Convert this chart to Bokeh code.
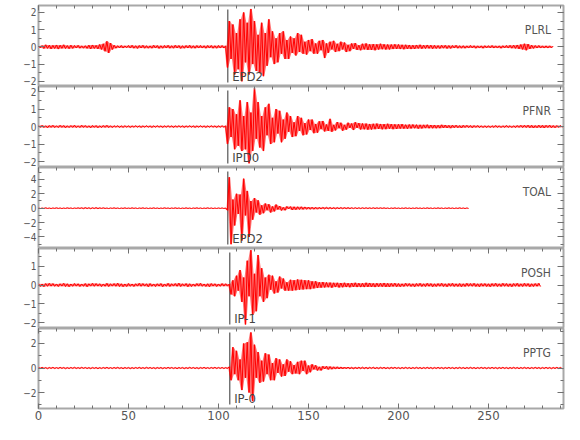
from bokeh.plotting import figure
from bokeh.layouts import column
from bokeh.models import Range1d, LinearAxis, SingleIntervalTicker, Label
from bokeh.embed import file_html
from bokeh.resources import INLINE
import numpy as np

# ---------------- data ----------------
stations = ["PLRL", "PFNR", "TOAL", "POSH", "PPTG"]
pick_names = ["EPD2", "IPD0", "EPD2", "IP-1", "IP-0"]
pick_times = [105.2, 105.2, 105.2, 106.3, 106.3]
y_low = [-2.3, -2.34, -5.6, -2.32, -3.3]
y_high = [2.4, 2.29, 5.65, 1.95, 3.22]
y_major = [1, 1, 2, 1, 2]
x_max = 291.7
dt = 1.0  # seconds between listed peak values

plrl = [
    0.05, -0.06, 0.08, -0.10, 0.12, -0.09, 0.10, -0.12, 0.09, -0.10,
    0.11, -0.13, 0.10, -0.09, 0.12, -0.10, 0.08, -0.11, 0.10, -0.09,
    0.08, -0.07, 0.09, -0.08, 0.06, -0.08, 0.07, -0.09, 0.10, -0.12,
    0.11, -0.10, 0.09, -0.12, 0.14, -0.15, 0.18, -0.26, 0.32, -0.35,
    0.22, -0.16, 0.10, -0.08, 0.07, -0.06, 0.08, -0.07, 0.06, -0.05,
    0.08, -0.07, 0.09, -0.08, 0.07, -0.09, 0.08, -0.07, 0.09, -0.08,
    0.07, -0.08, 0.06, -0.08, 0.09, -0.07, 0.08, -0.09, 0.07, -0.08,
    0.08, -0.07, 0.09, -0.08, 0.07, -0.08, 0.09, -0.07, 0.08, -0.09,
    0.07, -0.08, 0.08, -0.07, 0.09, -0.08, 0.07, -0.08, 0.08, -0.07,
    0.08, -0.07, 0.07, -0.08, 0.08, -0.07, 0.08, -0.08, 0.07, -0.08,
    0.08, -0.07, 0.08, -0.07, 0.06, -1.20, 1.50, -0.70, 1.30, -1.60,
    0.80, -1.30, 1.60, -2.00, 2.00, -0.90, 1.40, -1.60, 2.20, -1.00,
    1.50, -1.40, 0.70, -1.50, 1.40, -1.70, 0.80, -1.10, 1.60, -0.60,
    0.90, -1.00, 0.50, -0.90, 0.80, -0.40, 0.90, -0.70, 0.40, -0.70,
    0.60, -0.35, 0.50, -0.50, 0.80, -0.30, 0.70, -0.40, 0.30, -0.45,
    0.40, -0.25, 0.45, -0.40, 0.20, -0.40, 0.35, -0.20, 0.40, -0.65,
    0.20, -0.35, 0.30, -0.15, 0.35, -0.30, 0.18, -0.25, 0.30, -0.15,
    0.25, -0.30, 0.12, -0.25, 0.20, -0.12, 0.22, -0.18, 0.10, -0.20,
    0.18, -0.15, 0.20, -0.18, 0.15, -0.18, 0.16, -0.20, 0.15, -0.16,
    0.18, -0.14, 0.15, -0.16, 0.14, -0.15, 0.14, -0.13, 0.15, -0.12,
    0.14, -0.13, 0.12, -0.14, 0.12, -0.12, 0.11, -0.13, 0.10, -0.12,
    0.11, -0.10, 0.12, -0.11, 0.10, -0.10, 0.11, -0.09, 0.10, -0.11,
    0.09, -0.10, 0.08, -0.10, 0.09, -0.08, 0.09, -0.10, 0.08, -0.09,
    0.08, -0.07, 0.09, -0.08, 0.07, -0.08, 0.07, -0.08, 0.06, -0.07,
    0.08, -0.06, 0.07, -0.08, 0.06, -0.07, 0.06, -0.08, 0.07, -0.06,
    0.07, -0.06, 0.08, -0.07, 0.06, -0.07, 0.06, -0.08, 0.07, -0.06,
    0.08, -0.07, 0.09, -0.08, 0.10, -0.09, 0.11, -0.12, 0.14, -0.15,
    0.18, -0.20, 0.16, -0.12, 0.10, -0.09, 0.08, -0.07, 0.08, -0.07,
    0.06, -0.07, 0.06, -0.07, 0.06, -0.06, 0.05,
]

pfnr = [
    0.06, -0.05, 0.07, -0.06, 0.05, -0.07, 0.06, -0.05, 0.07, -0.06,
    0.05, -0.06, 0.07, -0.05, 0.06, -0.07, 0.05, -0.06, 0.06, -0.05,
    0.07, -0.06, 0.05, -0.06, 0.07, -0.05, 0.06, -0.06, 0.05, -0.07,
    0.06, -0.05, 0.06, -0.07, 0.05, -0.06, 0.06, -0.05, 0.07, -0.06,
    0.05, -0.06, 0.05, -0.04, 0.05, -0.05, 0.04, -0.05, 0.05, -0.04,
    0.04, -0.05, 0.04, -0.04, 0.05, -0.04, 0.04, -0.05, 0.04, -0.04,
    0.05, -0.04, 0.04, -0.05, 0.04, -0.04, 0.05, -0.04, 0.04, -0.05,
    0.04, -0.04, 0.05, -0.04, 0.04, -0.05, 0.04, -0.04, 0.05, -0.04,
    0.04, -0.05, 0.04, -0.04, 0.05, -0.04, 0.04, -0.05, 0.04, -0.04,
    0.05, -0.04, 0.04, -0.05, 0.04, -0.04, 0.05, -0.04, 0.04, -0.05,
    0.04, -0.04, 0.05, -0.04, 0.04, -1.00, 1.10, -0.60, 1.00, -1.30,
    0.70, -1.10, 1.50, -1.40, 0.60, -1.30, 1.40, -2.10, 0.80, -1.40,
    2.20, -0.70, 1.40, -1.20, 0.60, -1.40, 1.10, -0.50, 1.30, -1.00,
    0.50, -0.90, 1.00, -0.40, 0.90, -0.90, 0.40, -0.70, 0.80, -0.30,
    0.60, -0.60, 0.25, -0.55, 0.60, -0.25, 0.50, -0.50, 0.20, -0.45,
    0.40, -0.20, 0.40, -0.38, 0.15, -0.35, 0.30, -0.15, 0.32, -0.28,
    0.12, -0.25, 0.44, -0.30, 0.10, -0.22, 0.26, -0.10, 0.22, -0.24,
    0.10, -0.18, 0.22, -0.08, 0.18, -0.20, 0.25, -0.08, 0.20, -0.17,
    0.18, -0.16, 0.17, -0.18, 0.15, -0.17, 0.16, -0.15, 0.17, -0.14,
    0.15, -0.16, 0.14, -0.15, 0.16, -0.13, 0.14, -0.15, 0.13, -0.14,
    0.13, -0.12, 0.14, -0.12, 0.11, -0.13, 0.12, -0.11, 0.12, -0.10,
    0.11, -0.12, 0.10, -0.11, 0.10, -0.09, 0.11, -0.10, 0.09, -0.10,
    0.09, -0.10, 0.08, -0.09, 0.10, -0.08, 0.09, -0.08, 0.07, -0.09,
    0.08, -0.07, 0.08, -0.07, 0.06, -0.08, 0.07, -0.06, 0.07, -0.06,
    0.06, -0.07, 0.06, -0.05, 0.06, -0.06, 0.05, -0.06, 0.05, -0.06,
    0.05, -0.06, 0.05, -0.05, 0.06, -0.05, 0.05, -0.06, 0.05, -0.05,
    0.06, -0.05, 0.05, -0.06, 0.05, -0.06, 0.06, -0.05, 0.07, -0.06,
    0.07, -0.06, 0.08, -0.07, 0.07, -0.08, 0.06, -0.07, 0.08, -0.07,
    0.07, -0.08, 0.07, -0.06, 0.08, -0.07, 0.06, -0.07, 0.06, -0.05,
    0.06, -0.05,
]

toal = [
    0.04, -0.05, 0.03, -0.04, 0.05, -0.04, 0.03, -0.05, 0.04, -0.03,
    0.05, -0.04, 0.04, -0.05, 0.03, -0.04, 0.05, -0.03, 0.04, -0.05,
    0.04, -0.03, 0.05, -0.04, 0.06, -0.07, 0.08, -0.06, 0.07, -0.08,
    0.07, -0.06, 0.08, -0.07, 0.05, -0.04, 0.05, -0.04, 0.03, -0.05,
    0.04, -0.03, 0.05, -0.04, 0.04, -0.05, 0.03, -0.04, 0.05, -0.04,
    0.03, -0.04, 0.05, -0.03, 0.04, -0.05, 0.04, -0.03, 0.05, -0.04,
    0.04, -0.05, 0.03, -0.04, 0.05, -0.04, 0.04, -0.05, 0.03, -0.04,
    0.05, -0.03, 0.04, -0.05, 0.04, -0.03, 0.05, -0.04, 0.04, -0.05,
    0.03, -0.04, 0.05, -0.04, 0.03, -0.05, 0.04, -0.03, 0.05, -0.04,
    0.04, -0.05, 0.03, -0.04, 0.05, -0.04, 0.04, -0.05, 0.03, -0.04,
    0.04, -0.03, 0.04, -0.04, 0.03, -0.30, 4.30, -5.00, 1.20, -2.40,
    2.00, -0.80, 1.90, -4.50, 4.10, -1.00, 2.40, -4.00, 1.00, -1.60,
    1.40, -0.60, 1.10, -0.90, 0.40, -0.70, 0.65, -0.30, 0.55, -0.60,
    0.25, -0.45, 0.50, -0.20, 0.30, -0.32, 0.12, -0.30, 0.25, -0.10,
    0.22, -0.25, 0.20, -0.22, 0.20, -0.18, 0.20, -0.17, 0.18, -0.16,
    0.15, -0.16, 0.14, -0.15, 0.13, -0.14, 0.12, -0.13, 0.12, -0.11,
    0.12, -0.10, 0.11, -0.10, 0.09, -0.10, 0.09, -0.08, 0.09, -0.08,
    0.08, -0.07, 0.08, -0.07, 0.07, -0.06, 0.07, -0.06, 0.06, -0.06,
    0.06, -0.05, 0.06, -0.05, 0.05, -0.05, 0.06, -0.05, 0.05, -0.04,
    0.05, -0.04, 0.05, -0.04, 0.04, -0.05, 0.04, -0.04, 0.05, -0.04,
    0.04, -0.05, 0.04, -0.04, 0.05, -0.04, 0.04, -0.05, 0.04, -0.04,
    0.05, -0.04, 0.04, -0.05, 0.04, -0.04, 0.05, -0.04, 0.04, -0.05,
    0.04, -0.04, 0.05, -0.04, 0.04, -0.05, 0.04, -0.04, 0.05, -0.04,
    0.04, -0.05, 0.04, -0.04, 0.05, -0.04, 0.04, -0.05, 0.04, -0.04,
]

posh = [
    0.07, -0.08, 0.06, -0.09, 0.08, -0.07, 0.09, -0.06, 0.08, -0.07,
    0.06, -0.08, 0.07, -0.06, 0.09, -0.08, 0.07, -0.09, 0.06, -0.07,
    0.08, -0.06, 0.07, -0.08, 0.06, -0.07, 0.08, -0.09, 0.07, -0.06,
    0.09, -0.07, 0.08, -0.06, 0.07, -0.08, 0.06, -0.07, 0.09, -0.08,
    0.07, -0.06, 0.08, -0.07, 0.10, -0.08, 0.07, -0.09, 0.06, -0.08,
    0.08, -0.07, 0.06, -0.08, 0.07, -0.06, 0.09, -0.07, 0.08, -0.06,
    0.07, -0.09, 0.08, -0.07, 0.06, -0.08, 0.07, -0.06, 0.08, -0.09,
    0.06, -0.07, 0.09, -0.08, 0.07, -0.06, 0.08, -0.07, 0.10, -0.08,
    0.07, -0.06, 0.08, -0.09, 0.07, -0.08, 0.06, -0.07, 0.08, -0.06,
    0.09, -0.07, 0.06, -0.08, 0.07, -0.09, 0.08, -0.06, 0.07, -0.08,
    0.06, -0.07, 0.08, -0.06, 0.07, -0.06, 0.05, -0.50, 0.25, -0.60,
    0.50, -0.30, 0.80, -0.90, 0.40, -2.10, 1.30, -0.60, 1.86, -1.60,
    0.60, -1.40, 1.60, -0.60, 0.90, -0.90, 0.40, -0.70, 0.55, -0.25,
    0.50, -0.45, 0.20, -0.40, 0.45, -0.18, 0.35, -0.30, 0.15, -0.30,
    0.28, -0.30, 0.26, -0.28, 0.30, -0.25, 0.28, -0.24, 0.26, -0.22,
    0.25, -0.22, 0.20, -0.18, 0.20, -0.16, 0.15, -0.14, 0.16, -0.13,
    0.14, -0.12, 0.13, -0.14, 0.12, -0.11, 0.12, -0.13, 0.11, -0.12,
    0.12, -0.11, 0.10, -0.12, 0.11, -0.10, 0.12, -0.11, 0.10, -0.11,
    0.10, -0.11, 0.12, -0.10, 0.11, -0.10, 0.09, -0.11, 0.10, -0.09,
    0.10, -0.09, 0.11, -0.10, 0.09, -0.10, 0.09, -0.08, 0.10, -0.09,
    0.08, -0.09, 0.07, -0.08, 0.09, -0.07, 0.08, -0.08, 0.07, -0.09,
    0.08, -0.07, 0.09, -0.08, 0.07, -0.08, 0.09, -0.07, 0.08, -0.09,
    0.07, -0.08, 0.08, -0.07, 0.09, -0.08, 0.07, -0.09, 0.08, -0.07,
    0.09, -0.08, 0.07, -0.08, 0.08, -0.09, 0.07, -0.08, 0.09, -0.07,
    0.08, -0.07, 0.09, -0.08, 0.07, -0.09, 0.08, -0.07, 0.08, -0.08,
    0.07, -0.09, 0.08, -0.07, 0.09, -0.08, 0.07, -0.08, 0.09, -0.07,
    0.08, -0.08, 0.07, -0.09, 0.08, -0.07, 0.09, -0.08, 0.07, -0.08,
    0.09, -0.07, 0.08, -0.09, 0.07, -0.08, 0.08, -0.07, 0.09, -0.08,
]

pptg = [
    0.05, -0.04, 0.06, -0.05, 0.04, -0.06, 0.05, -0.04, 0.06, -0.05,
    0.04, -0.05, 0.06, -0.04, 0.05, -0.06, 0.04, -0.05, 0.05, -0.04,
    0.06, -0.05, 0.04, -0.05, 0.06, -0.04, 0.05, -0.05, 0.04, -0.06,
    0.05, -0.04, 0.05, -0.06, 0.04, -0.05, 0.05, -0.04, 0.06, -0.05,
    0.04, -0.05, 0.05, -0.04, 0.06, -0.05, 0.04, -0.06, 0.05, -0.04,
    0.05, -0.06, 0.04, -0.05, 0.05, -0.04, 0.06, -0.05, 0.04, -0.05,
    0.06, -0.04, 0.05, -0.05, 0.04, -0.06, 0.05, -0.04, 0.05, -0.06,
    0.04, -0.05, 0.06, -0.04, 0.05, -0.05, 0.04, -0.06, 0.05, -0.04,
    0.05, -0.06, 0.04, -0.05, 0.06, -0.04, 0.05, -0.05, 0.04, -0.06,
    0.05, -0.04, 0.06, -0.05, 0.04, -0.05, 0.05, -0.04, 0.06, -0.05,
    0.05, -0.04, 0.05, -0.05, 0.04, -0.05, 0.10, -1.00, 1.70, -0.50,
    1.40, -1.00, 0.70, -1.80, 2.00, -0.80, 2.10, -2.00, 2.90, -2.70,
    1.90, -0.80, 1.30, -1.20, 0.60, -1.10, 1.20, -0.50, 1.10, -1.00,
    0.40, -1.00, 0.80, -0.40, 0.70, -0.70, 0.30, -0.65, 0.70, -0.30,
    0.55, -0.50, 0.25, -0.45, 0.50, -0.50, 0.60, -0.25, 0.60, -0.50,
    0.20, -0.35, 0.30, -0.12, 0.22, -0.20, 0.10, -0.20, 0.15, -0.08,
    0.14, -0.12, 0.12, -0.10, 0.10, -0.09, 0.10, -0.08, 0.09, -0.08,
    0.08, -0.07, 0.08, -0.07, 0.06, -0.08, 0.07, -0.06, 0.07, -0.06,
    0.07, -0.06, 0.06, -0.07, 0.06, -0.05, 0.07, -0.06, 0.05, -0.06,
    0.06, -0.05, 0.06, -0.06, 0.05, -0.06, 0.06, -0.05, 0.06, -0.05,
    0.05, -0.06, 0.05, -0.05, 0.06, -0.05, 0.05, -0.06, 0.05, -0.05,
    0.06, -0.05, 0.05, -0.06, 0.05, -0.05, 0.06, -0.05, 0.05, -0.06,
    0.05, -0.05, 0.06, -0.05, 0.05, -0.06, 0.05, -0.05, 0.06, -0.05,
    0.05, -0.06, 0.05, -0.05, 0.06, -0.05, 0.05, -0.06, 0.05, -0.05,
    0.06, -0.05, 0.05, -0.06, 0.05, -0.05, 0.06, -0.05, 0.05, -0.06,
    0.05, -0.05, 0.06, -0.05, 0.05, -0.06, 0.05, -0.05, 0.06, -0.05,
    0.05, -0.06, 0.05, -0.05, 0.06, -0.05, 0.05, -0.06, 0.05, -0.05,
    0.06, -0.05, 0.05, -0.06, 0.05, -0.05, 0.06, -0.05, 0.05, -0.06,
    0.05, -0.05, 0.06, -0.05, 0.05, -0.06, 0.05, -0.05, 0.06, -0.05,
    0.05, -0.06,
]

traces = [plrl, pfnr, toal, posh, pptg]

# ---------------- styling ----------------
FONT = "Liberation Sans Narrow, DejaVu Sans Condensed, sans-serif"
FRAME = "#a8a8a8"
TICK = "#707070"
TXT = "#555555"
frame_heights = [81, 81, 81, 80, 80]


def add_axis(p, side, interval, minors, label_size=None, tin=6, tmin=3):
    ax = LinearAxis(ticker=SingleIntervalTicker(interval=interval, num_minor_ticks=minors))
    ax.axis_line_color = None
    ax.major_tick_in = tin
    ax.major_tick_out = 0
    ax.minor_tick_in = tmin
    ax.minor_tick_out = 0
    ax.major_tick_line_color = TICK
    ax.minor_tick_line_color = TICK
    if label_size:
        ax.major_label_text_font = FONT
        ax.major_label_text_font_size = label_size
        ax.major_label_text_color = TXT
        ax.major_label_standoff = 2
    else:
        ax.major_label_text_font_size = "0px"
        ax.major_label_text_color = None
        ax.major_label_standoff = 0
    p.add_layout(ax, side)
    return ax


figs = []
for i in range(5):
    last = i == 4
    lo, hi = y_low[i], y_high[i]
    fh = frame_heights[i]
    p = figure(frame_width=525, frame_height=fh,
               x_range=Range1d(0, x_max), y_range=Range1d(lo, hi),
               output_backend="svg", toolbar_location=None,
               x_axis_location=None, y_axis_location=None,
               min_border_left=38, min_border_right=12,
               min_border_top=5 if i == 0 else 0, min_border_bottom=0)
    p.grid.visible = False
    p.outline_line_color = FRAME
    p.outline_line_width = 2
    p.background_fill_color = "white"
    p.border_fill_color = "white"

    add_axis(p, "left", y_major[i], 2, label_size="10px")
    add_axis(p, "right", y_major[i], 2)
    add_axis(p, "above", 50, 5, tin=5, tmin=3)
    if last:
        add_axis(p, "below", 50, 5, label_size="13px", tin=5, tmin=3)

    span = hi - lo
    pt = pick_times[i]
    p.segment(x0=[pt], x1=[pt], y0=[lo + span * 4 / fh], y1=[hi - span * 4 / fh],
              line_color="#333333", line_width=1)

    y = np.array(traces[i])
    t = np.arange(len(y)) * dt
    # band between successive opposite peaks (dense wiggles at this scale)
    up = np.maximum(y[:-1], y[1:])
    dn = np.minimum(y[:-1], y[1:])
    p.varea(x=t[:-1] + 0.5 * dt, y1=dn, y2=up, fill_color="#ff0000", fill_alpha=0.55)
    p.line(t, y, line_color="#ff0000", line_width=1)

    p.add_layout(Label(x=x_max - 7.0, y=hi - span * 24 / fh, text=stations[i],
                       text_align="right", text_baseline="alphabetic",
                       text_font=FONT, text_font_size="12px", text_color=TXT))
    p.add_layout(Label(x=pt + 2.4, y=lo + span * 10 / fh, text=pick_names[i],
                       text_align="left", text_baseline="alphabetic",
                       text_font=FONT, text_font_size="13px", text_color="#444444"))
    figs.append(p)

layout = column(*figs, spacing=0)
open("out.html", "w").write(file_html(layout, INLINE))
